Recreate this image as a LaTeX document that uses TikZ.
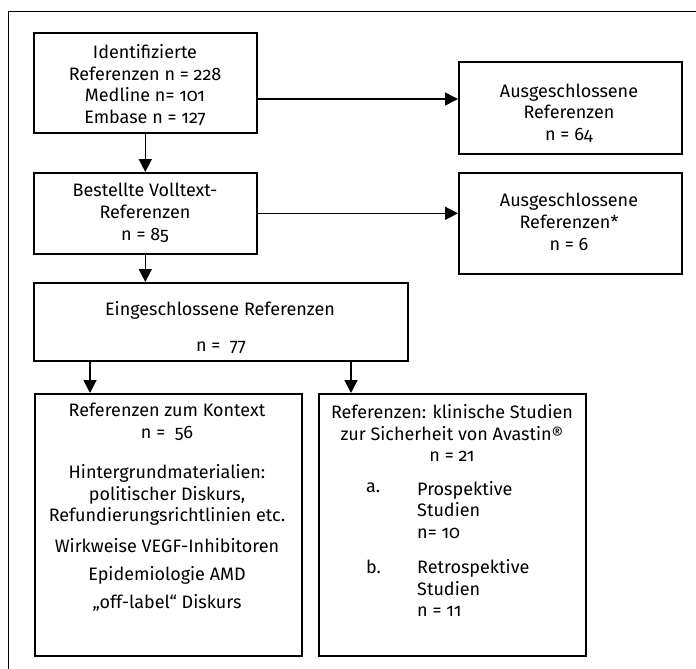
\documentclass[tikz,border=0pt]{standalone}
\usepackage{fontspec}
\setmainfont{Fira Sans}[Numbers=OldStyle]
\usetikzlibrary{arrows.meta}
\begin{document}
\begin{tikzpicture}[x=1pt,y=-1pt,
  box/.style={draw,line width=1.6pt,inner sep=0pt,anchor=north west},
  txt/.style={align=center,font=\fontsize{18}{21.7}\selectfont,inner sep=0pt},
  ltxt/.style={align=left,anchor=west,font=\fontsize{18}{21.7}\selectfont,inner sep=0pt},
  arr/.style={line width=1.6pt,-{Triangle[length=13pt,width=13pt]}}]
\useasboundingbox (0,0) rectangle (696,669);
\clip (0,0) rectangle (696,669);
\draw[line width=0.8pt] (8,11) rectangle (720,700);
% boxes
\node[box,minimum width=223pt,minimum height=100pt] (b1) at (33,32) {};
\node[box,minimum width=223pt,minimum height=81pt] (b2) at (33,172) {};
\node[box,minimum width=374pt,minimum height=78pt] (b3) at (33,282) {};
\node[box,minimum width=223pt,minimum height=92pt] (x1) at (458,61) {};
\node[box,minimum width=223pt,minimum height=101pt] (x2) at (458,172) {};
\node[box,minimum width=267pt,minimum height=262pt] (b4) at (34,393) {};
\node[box,minimum width=267pt,minimum height=262pt] (b5) at (318,393) {};
% texts
\node[txt] (t1) at (145,85) {Identifizierte\\Referenzen n = 228\\Medline n= 101\\Embase n = 127};
\node[txt] (t2) at (145,213) {Bestellte Volltext-\\Referenzen\\n = 85};
\node[txt] (t3a) at (220,310) {Eingeschlossene Referenzen};
\node[txt] (t3b) at (221,347) {n =\ \ 77};
\node[txt] (tx1) at (569,113) {Ausgeschlossene\\Referenzen\\n = 64};
\node[txt] (tx2) at (569,222) {Ausgeschlossene\\Referenzen*\\n = 6};
\node[txt] (t4a) at (167,422) {Referenzen zum Kontext\\n =\ \ 56};
\node[txt] (t4b) at (167,495) {Hintergrundmaterialien:\\politischer Diskurs,\\Refundierungsrichtlinien etc.};
\node[txt] (t4c) at (167,546) {Wirkweise VEGF-Inhibitoren};
\node[txt] (t4d) at (167,575) {Epidemiologie AMD};
\node[txt] (t4e) at (167,603) {„off-label“ Diskurs};
\node[txt] (t5a) at (452,433) {Referenzen: klinische Studien\\zur Sicherheit von Avastin®\\n = 21};
\node[ltxt] (t5b) at (366,488) {a.};
\node[ltxt] (t5c) at (417,510) {Prospektive\\Studien\\n= 10};
\node[ltxt] (t5d) at (366,567) {b.};
\node[ltxt] (t5e) at (417,588) {Retrospektive\\Studien\\n = 11};
% arrows
\draw[arr] (b1.south) -- (b2.north);
\draw[arr] (b2.south) -- (b2.south |- b3.north);
\draw[arr] (b1.east |- 0,99) -- (x1.west |- 0,99);
\draw[arr] (b2.east) -- (x2.west |- b2.east);
\draw[arr] (b3.south -| 90,0) -- (b4.north -| 90,0);
\draw[arr] (b3.south -| 351,0) -- (b5.north -| 351,0);
\end{tikzpicture}
\end{document}
